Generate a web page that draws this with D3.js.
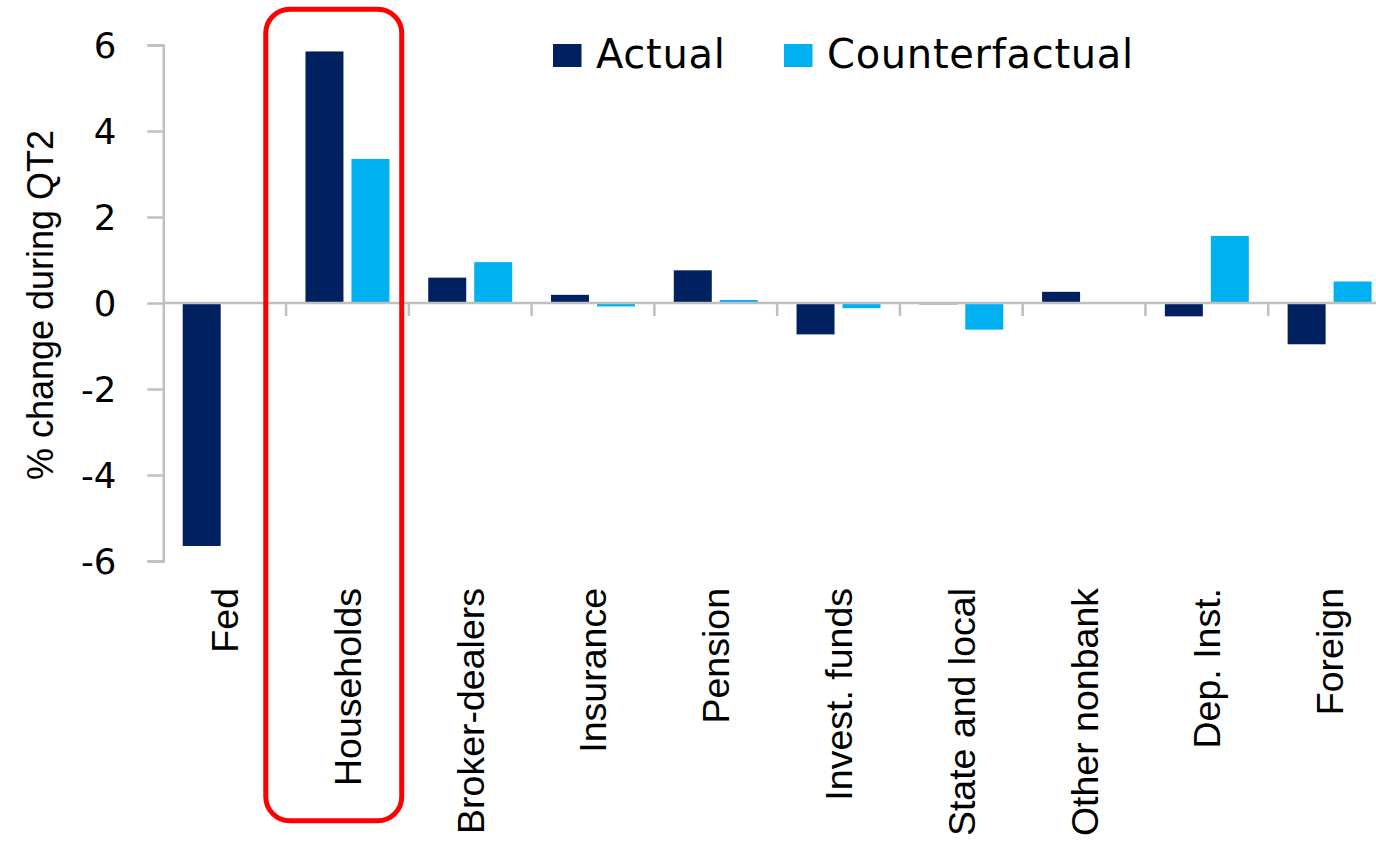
<!DOCTYPE html>
<html>
<head>
<meta charset="utf-8">
<script src="https://cdn.jsdelivr.net/npm/d3@7"></script>
<style>
  html, body { margin: 0; padding: 0; background: #ffffff; }
  svg { display: block; }
</style>
</head>
<body>
<svg id="chart" width="1376" height="843"></svg>
<script>
// Sectors and their % change in Treasury holdings during QT2
const categories = ["Fed", "Households", "Broker-dealers", "Insurance", "Pension",
  "Invest. funds", "State and local", "Other nonbank", "Dep. Inst.", "Foreign"];
const actual = [-5.65, 5.85, 0.59, 0.19, 0.76, -0.73, -0.03, 0.26, -0.31, -0.96];
const counterfactual = [null, 3.35, 0.95, -0.08, 0.07, -0.12, -0.62, 0, 1.56, 0.50];
const seriesNames = ["Actual", "Counterfactual"];
const seriesColors = ["#002060", "#00B0F0"];
const yTicks = [-6, -4, -2, 0, 2, 4, 6];
const highlighted = "Households";

const svg = d3.select("#chart");
const axisColor = "#BFBFBF";
const tickFont = "'DejaVu Sans', Verdana, sans-serif";
const labelFont = "'Liberation Sans', Arial, sans-serif";

const x = d3.scaleBand().domain(categories).range([163.3, 1391]).padding(0);
const xs = d3.scaleBand().domain(seriesNames).range([0, x.bandwidth()])
  .paddingInner(0.174).paddingOuter(0.422);
const y = d3.scaleLinear().domain([-6, 6]).range([561, 45]);

const rows = categories.map((c, i) => ({ cat: c, values: [actual[i], counterfactual[i]] }));

// Bars
const groups = svg.append("g").selectAll("g").data(rows).join("g")
  .attr("transform", d => `translate(${x(d.cat)},0)`);
groups.selectAll("rect")
  .data(d => d.values.map((v, k) => ({ v, k })).filter(e => e.v !== null && e.v !== 0))
  .join("rect")
  .attr("x", e => xs(seriesNames[e.k]))
  .attr("width", xs.bandwidth())
  .attr("y", e => y(Math.max(0, e.v)))
  .attr("height", e => Math.abs(y(e.v) - y(0)))
  .attr("fill", e => seriesColors[e.k]);

// Y axis
const yAxis = svg.append("g").attr("transform", "translate(163.3,0)")
  .call(d3.axisLeft(y).tickValues(yTicks).tickFormat(d => String(d)).tickSize(16).tickPadding(31));
yAxis.select(".domain").attr("stroke", axisColor).attr("stroke-width", 2.5);
yAxis.selectAll(".tick line").attr("stroke", axisColor).attr("stroke-width", 2.5);
yAxis.selectAll(".tick text")
  .attr("font-family", tickFont).attr("font-size", 35.5).attr("fill", "#000").attr("dy", "0.36em");

// Zero line and category separators
const xAxis = svg.append("g").attr("transform", `translate(0,${y(0)})`)
  .call(d3.axisBottom(x).tickSize(0).tickFormat(""));
xAxis.select(".domain").remove();
xAxis.append("line")
  .attr("x1", 163.3).attr("x2", 1376)
  .attr("stroke", axisColor).attr("stroke-width", 2.5);
xAxis.selectAll(".sep").data(categories.slice(1)).join("line")
  .attr("class", "sep")
  .attr("x1", d => x(d)).attr("x2", d => x(d))
  .attr("y1", 0).attr("y2", 13)
  .attr("stroke", axisColor).attr("stroke-width", 2.5);

// Rotated category labels
svg.append("g").selectAll("text").data(categories).join("text")
  .attr("transform", d => `translate(${x(d) + x.bandwidth() / 2},588) rotate(-90)`)
  .attr("text-anchor", "end")
  .attr("dy", "0.36em")
  .attr("font-family", labelFont).attr("font-size", 37.5).attr("fill", "#000")
  .text(d => d);

// Y axis title
svg.append("text")
  .attr("transform", `translate(40,${(y(6) + y(-6)) / 2 + 2}) rotate(-90)`)
  .attr("text-anchor", "middle").attr("dy", "0.36em")
  .attr("font-family", labelFont).attr("font-size", 36).attr("fill", "#000")
  .text("% change during QT2");

// Legend
const legendX = [553, 784];
const legend = svg.append("g").selectAll("g").data(seriesNames).join("g")
  .attr("transform", (d, i) => `translate(${legendX[i]},0)`);
legend.append("rect").attr("x", 0).attr("y", 44).attr("width", 28.5).attr("height", 23)
  .attr("fill", (d, i) => seriesColors[i]);
legend.append("text").attr("x", 43).attr("y", 68)
  .attr("font-family", tickFont).attr("font-size", 40).attr("letter-spacing", 0.7)
  .attr("fill", "#000").text(d => d);

// Highlight box around the Households group
svg.append("rect")
  .attr("x", x(highlighted) - 20.3)
  .attr("y", 9.2)
  .attr("width", x.bandwidth() + 13.2)
  .attr("height", 811.6)
  .attr("rx", 24).attr("ry", 24)
  .attr("fill", "none").attr("stroke", "#FF0000").attr("stroke-width", 5);
</script>
</body>
</html>
